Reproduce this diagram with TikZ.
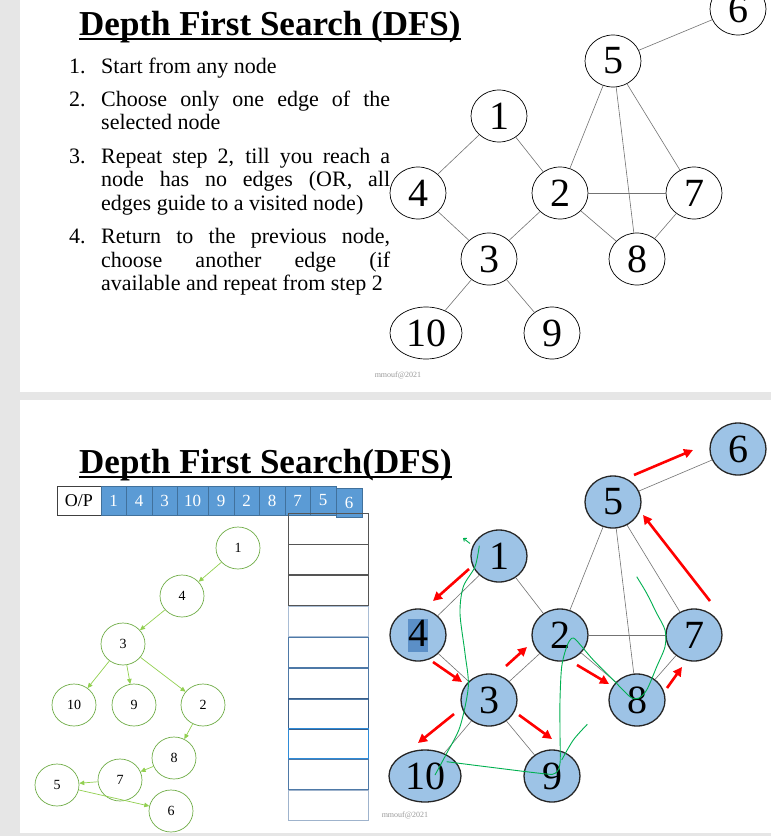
\documentclass[tikz,border=0pt]{standalone}
\usepackage{fontspec}
\setmainfont{Liberation Serif}
\usetikzlibrary{shapes.geometric,arrows.meta}
\definecolor{slidegray}{HTML}{E6E6E6}
\definecolor{nodeblue}{HTML}{9DC3E6}
\definecolor{hlblue}{HTML}{5B8FC7}
\definecolor{opblue}{HTML}{5B9BD5}
\definecolor{opedge}{HTML}{41719C}
\definecolor{treegreen}{HTML}{70AD47}
\definecolor{arrowgreen}{HTML}{92D050}
\definecolor{inkgreen}{HTML}{00B050}
\definecolor{stkA}{HTML}{555555}
\definecolor{stkB}{HTML}{A9BDD5}
\definecolor{stkC}{HTML}{4E79A7}
\definecolor{stkD}{HTML}{3A5F8A}
\definecolor{stkE}{HTML}{2E8BD8}
\definecolor{stkF}{HTML}{9FB3CC}
\begin{document}
\begin{tikzpicture}[x=1pt,y=-1pt,
  gnode/.style={ellipse, draw=black, line width=0.7pt, minimum width=56pt,
    minimum height=52pt, inner sep=0pt, font=\fontsize{40}{40}\selectfont},
  widenode/.style={minimum width=72pt},
  bnode/.style={gnode, fill=nodeblue, draw=black!85, line width=1.3pt},
  gedge/.style={draw=black!55, line width=0.6pt},
  tnode/.style={ellipse, draw=treegreen, line width=0.7pt, minimum width=44pt,
    minimum height=42pt, inner sep=0pt, font=\fontsize{14}{14}\selectfont},
  tarrow/.style={draw=arrowgreen, line width=0.7pt, -{Triangle[length=5pt,width=4.5pt]}},
  redarrow/.style={draw=red, line width=2.6pt, -{Triangle[length=9pt,width=9pt]}},
  ink/.style={draw=inkgreen, line width=0.9pt},
  listtext/.style={anchor=base west, inner sep=0pt, font=\fontsize{22}{24}\selectfont},
  titletext/.style={anchor=base west, inner sep=0pt, font=\bfseries\fontsize{35}{35}\selectfont},
  opbox/.style={rectangle, draw=opedge, fill=opblue, line width=0.6pt, minimum height=29pt,
    inner sep=0pt, text=white, font=\fontsize{17}{17}\selectfont},
  stackbox/.style={rectangle, draw=#1, line width=1pt, minimum width=80pt, minimum height=30.5pt, inner sep=0pt},
  wmark/.style={text=black!40, font=\fontsize{8}{8}\selectfont}
]
\useasboundingbox (0,0) rectangle (771,836);
\fill[slidegray] (0,0) rectangle (771,836);
\fill[white] (20,-5) rectangle (771,392);
\fill[white] (20,400) rectangle (771,833);

% ---------- upper slide ----------
\node[titletext] (title1) at (79,35) {Depth First Search (DFS)};
\draw[line width=2pt] ([yshift=-4pt]title1.base west) -- ([yshift=-4pt]title1.base east);

\node[listtext] (n1) at (69,73) {1.};
\node[listtext] (l1) at (101,73) {Start from any node};
\node[listtext] (n2) at (69,106) {2.};
\node[listtext] (l2a) at (101,106) {\makebox[289pt][s]{Choose only one edge of the}};
\node[listtext] (l2b) at (101,129) {selected node};
\node[listtext] (n3) at (69,163) {3.};
\node[listtext] (l3a) at (101,163) {\makebox[289pt][s]{Repeat step 2, till you reach a}};
\node[listtext] (l3b) at (101,186) {\makebox[289pt][s]{node has no edges (OR, all}};
\node[listtext] (l3c) at (101,210) {edges guide to a visited node)};
\node[listtext] (n4) at (69,243) {4.};
\node[listtext] (l4a) at (101,243) {\makebox[289pt][s]{Return to the previous node,}};
\node[listtext] (l4b) at (101,267) {\makebox[289pt][s]{choose another edge (if}};
\node[listtext] (l4c) at (101,290) {available and repeat from step 2};

\node[gnode] (a6) at (738,9) {6};
\node[gnode] (a5) at (613,61) {5};
\node[gnode] (a1) at (499,116) {1};
\node[gnode] (a4) at (418,193) {4};
\node[gnode] (a2) at (560,193) {2};
\node[gnode] (a7) at (694,193) {7};
\node[gnode] (a3) at (489,259) {3};
\node[gnode] (a8) at (637,259) {8};
\node[gnode,widenode] (a10) at (426,333) {10};
\node[gnode] (a9) at (552,333) {9};
\foreach \u/\v in {a5/a6,a5/a2,a5/a8,a5/a7,a1/a4,a1/a2,a4/a3,a2/a3,a2/a7,a2/a8,a7/a8,a3/a10,a3/a9}
  \draw[gedge] (\u) -- (\v);

\node[wmark] (wm1) at (398,375) {mmouf@2021};

% ---------- lower slide ----------
\node[titletext] (title2) at (79,473) {Depth First Search(DFS)};
\draw[line width=2pt] ([yshift=-4pt]title2.base west) -- ([yshift=-4pt]title2.base east);

% output row
\node[rectangle, draw=black!75, line width=0.8pt, minimum width=44pt, minimum height=29pt,
  inner sep=0pt, font=\fontsize{18}{18}\selectfont] (op) at (79,500.5) {O/P};
\node[opbox, minimum width=25pt] (o1) at (113.5,500.5) {1};
\node[opbox, minimum width=26pt] (o2) at (139,500.5) {4};
\node[opbox, minimum width=25pt] (o3) at (164.5,500.5) {3};
\node[opbox, minimum width=31pt] (o4) at (192.5,500.5) {10};
\node[opbox, minimum width=26pt] (o5) at (221,500.5) {9};
\node[opbox, minimum width=25pt] (o6) at (246.5,500.5) {2};
\node[opbox, minimum width=26pt] (o7) at (272,500.5) {8};
\node[opbox, minimum width=25pt] (o8) at (297.5,500.5) {7};
\node[opbox, minimum width=26pt] (o9) at (323,500.5) {5};
\node[opbox, minimum width=26pt] (o10) at (349,502.5) {6};

% stack
\node[stackbox=stkA] (s1) at (328,529) {};
\node[stackbox=stkA] (s2) at (328,559.5) {};
\node[stackbox=stkA] (s3) at (328,590.5) {};
\node[stackbox=stkB] (s4) at (328,621.5) {};
\node[stackbox=stkC] (s5) at (328,652.5) {};
\node[stackbox=stkC] (s6) at (328,684) {};
\node[stackbox=stkD] (s7) at (328,714) {};
\node[stackbox=stkE] (s8) at (328,743.5) {};
\node[stackbox=stkC] (s9) at (328,774.5) {};
\node[stackbox=stkF] (s10) at (328,805.5) {};

% DFS tree
\node[tnode] (t1) at (238,548) {1};
\node[tnode] (t4) at (182,596) {4};
\node[tnode] (t3) at (123,644) {3};
\node[tnode] (t10) at (74,705) {10};
\node[tnode] (t9) at (134,705) {9};
\node[tnode] (t2) at (203,705) {2};
\node[tnode] (t8) at (174,758) {8};
\node[tnode] (t7) at (120,780) {7};
\node[tnode] (t5) at (57,785) {5};
\node[tnode] (t6) at (171,811) {6};
\foreach \u/\v in {t1/t4,t4/t3,t3/t10,t3/t9,t3/t2,t2/t8,t8/t7,t7/t5,t5/t6}
  \draw[tarrow] (\u) -- (\v);

% graph with traversal
\node[bnode] (b6) at (738,449) {6};
\node[bnode] (b5) at (613,502) {5};
\node[bnode] (b1) at (499,556) {1};
\node[bnode] (b4) at (418,635) {\fboxsep=0pt\colorbox{hlblue}{\makebox[20pt]{\rule[-5pt]{0pt}{33pt}4}}};
\node[bnode] (b2) at (560,635) {2};
\node[bnode] (b7) at (694,635) {7};
\node[bnode] (b3) at (489,700) {3};
\node[bnode] (b8) at (637,700) {8};
\node[bnode,widenode] (b10) at (425,776) {10};
\node[bnode] (b9) at (552,776) {9};
\foreach \u/\v in {b5/b6,b5/b2,b5/b8,b5/b7,b1/b4,b1/b2,b4/b3,b2/b3,b2/b7,b2/b8,b7/b8,b3/b10,b3/b9}
  \draw[gedge] (\u) -- (\v);

% traversal arrows
\coordinate (r1s) at (469,569);  \coordinate (r1e) at (433,601);
\coordinate (r2s) at (433,662);  \coordinate (r2e) at (462,682);
\coordinate (r3s) at (506,666);  \coordinate (r3e) at (527,647);
\coordinate (r4s) at (577,665);  \coordinate (r4e) at (609,684);
\coordinate (r5s) at (667,688);  \coordinate (r5e) at (682,667);
\coordinate (r6s) at (710,601);  \coordinate (r6e) at (643,515);
\coordinate (r7s) at (634,475);  \coordinate (r7e) at (693,450);
\coordinate (r8s) at (454,714);  \coordinate (r8e) at (418,743);
\coordinate (r9s) at (519,715);  \coordinate (r9e) at (552,739);
\foreach \i in {1,...,9}
  \draw[redarrow] (r\i s) -- (r\i e);

% hand-drawn ink
\draw[ink, -{Straight Barb[length=2.5pt,width=4pt]}] (470,543.5) -- (463,538);
\draw[ink] plot[smooth] coordinates {(479.3,545.7) (475,566.7) (463.3,586.7) (460,613.3)
  (465,653.3) (468.3,686.7) (460,726.7) (446.7,753.3) (435,775)};
\draw[ink] plot[smooth, tension=0.5] coordinates {(446.7,761.7) (540,773.3) (555,773.3)
  (560,763.3) (560,733.3) (560,700) (561.7,666.7) (566.7,646.7) (571.7,638.3)
  (576.7,640.7) (593.3,660) (613.3,680) (630,696.7) (638.3,698.3) (646.7,690)
  (656.7,666.7) (665,646.7) (665,630) (656.7,613.3) (646.7,593.3) (636.7,576.7)};
\draw[ink] plot[smooth] coordinates {(561.7,760) (573.3,740) (587.3,724.3)};

\node[wmark] (wm2) at (405,815) {mmouf@2021};
\end{tikzpicture}
\end{document}
